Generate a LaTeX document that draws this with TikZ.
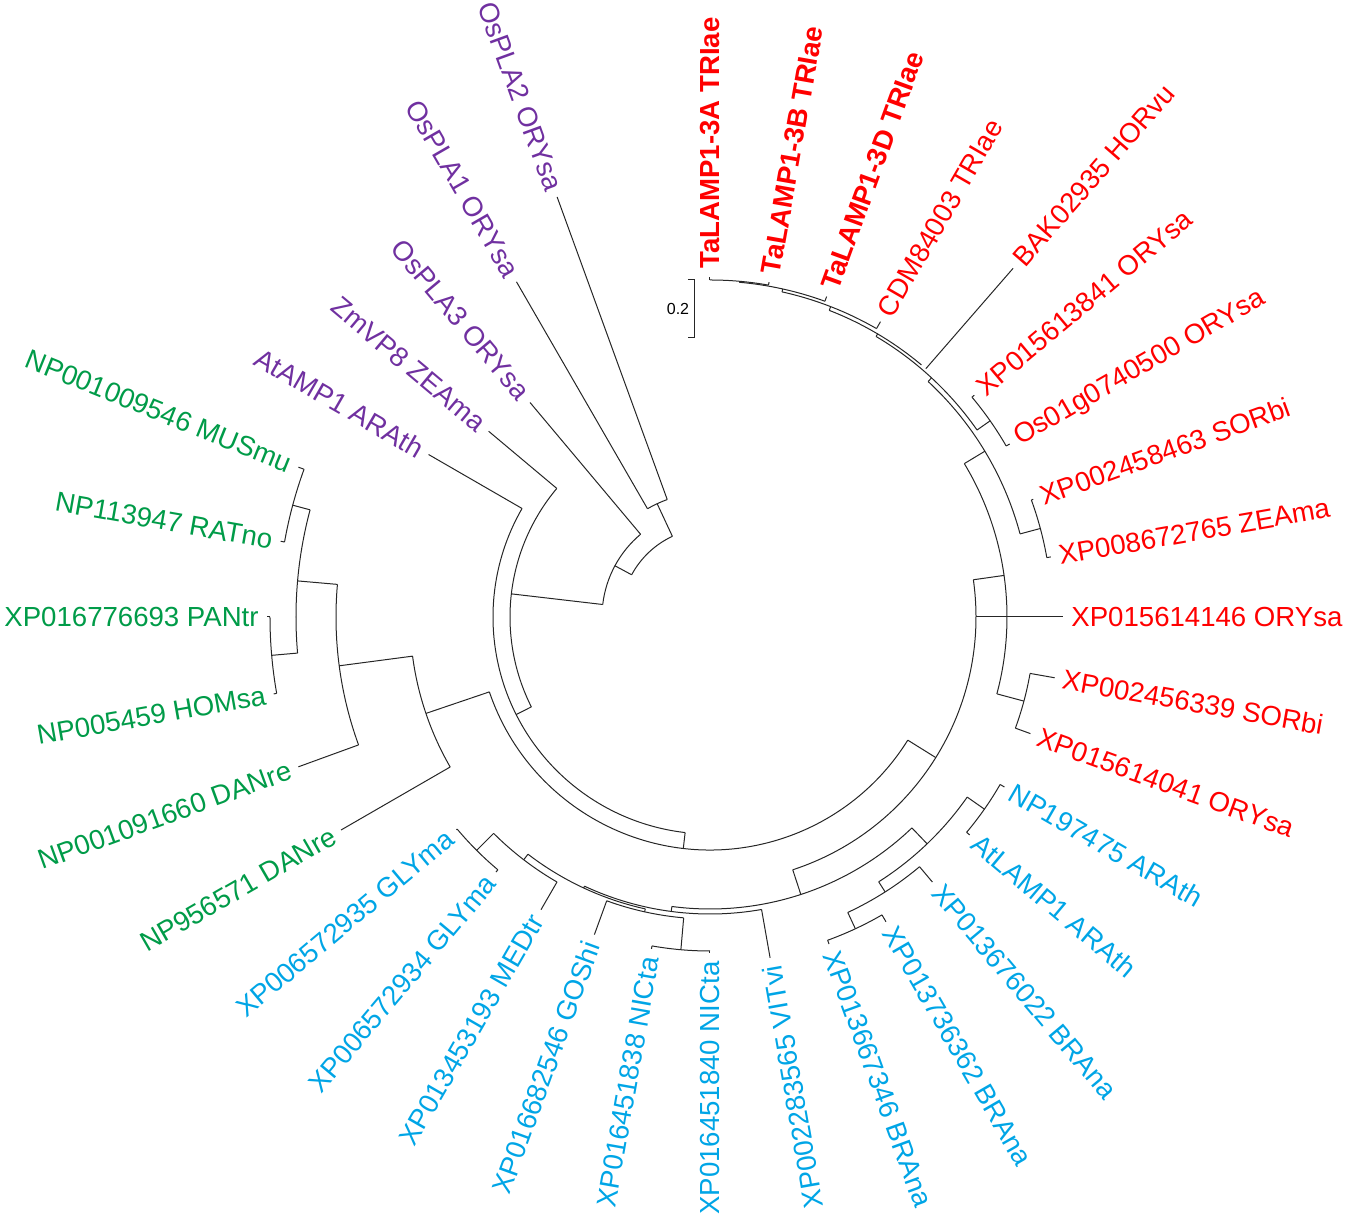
\documentclass[tikz,border=0pt]{standalone}
\usepackage{fontspec}
\setmainfont{Liberation Sans}
\definecolor{rojo}{RGB}{255,0,0}
\definecolor{azul}{RGB}{0,165,230}
\definecolor{verde}{RGB}{0,155,72}
\definecolor{morado}{RGB}{112,48,160}
% arc of an inner node: start angle, end angle, radius
\newcommand{\arco}[3]{\draw[rama] (#1:#3) arc[start angle=#1, end angle=#2, radius=#3];}
% radial branch: angle, inner radius, outer radius
\newcommand{\radio}[3]{\draw[rama] (#1:#2) -- (#1:#3);}

\begin{document}
\begin{tikzpicture}[x=0.5pt, y=0.5pt,
rama/.style={draw=black!85, line width=0.5pt},
hoja/.style={font=\fontsize{13.8}{16}\selectfont, inner sep=0pt},
der/.style={hoja, anchor=west},
izq/.style={hoja, anchor=east},
negrita/.style={font=\fontsize{13.8}{16}\selectfont\bfseries},
]
\useasboundingbox (-710,-602) rectangle (640,617);

%Arcs
\arco{115}{151.68}{89}
\arco{110}{120}{125}
\arco{130}{173.36}{108}
\arco{140}{206.71}{200}
\arco{150}{263.42}{217}
\arco{198.75}{328.09}{233}
\arco{187.5}{210}{300}
\arco{175}{200}{374}
\arco{165}{185}{414}
\arco{160}{170}{432}
\arco{180}{190}{440}
\arco{-71.875}{8.047}{266}
\arco{-15}{31.094}{297}
\arco{15}{47.1875}{321}
\arco{35}{59.375}{326}
\arco{50}{68.75}{329}
\arco{60}{77.5}{333}
\arco{70}{85}{336}
\arco{80}{90}{337}
\arco{30}{40}{342}
\arco{10}{20}{342}
\arco{-20}{-10}{325}
\arco{-97.5}{-46.25}{292}
\arco{-57.5}{-35}{314}
\arco{-40}{-30}{335}
\arco{-65}{-50}{326}
\arco{-70}{-60}{344}
\arco{-115}{-80}{297}
\arco{-127.5}{-102.5}{299}
\arco{-110}{-95}{302}
\arco{-100}{-90}{334}
\arco{-135}{-120}{306}
\arco{-140}{-130}{330}

%Inner branches
\radio{115}{89}{125}
\radio{151.68}{89}{108}
\radio{173.36}{108}{200}
\radio{206.71}{200}{217}
\radio{263.42}{217}{233}
\radio{198.75}{233}{300}
\radio{187.5}{300}{374}
\radio{175}{374}{414}
\radio{165}{414}{432}
\radio{185}{414}{440}
\radio{328.09}{233}{266}
\radio{8.047}{266}{297}
\radio{31.094}{297}{321}
\radio{-15}{297}{325}
\radio{47.1875}{321}{326}
\radio{15}{321}{342}
\radio{59.375}{326}{329}
\radio{35}{326}{342}
\radio{68.75}{329}{333}
\radio{77.5}{333}{336}
\radio{85}{336}{337}
\radio{-71.875}{266}{292}
\radio{-46.25}{292}{314}
\radio{-35}{314}{335}
\radio{-57.5}{314}{326}
\radio{-65}{326}{344}
\radio{-97.5}{292}{297}
\radio{-115}{297}{299}
\radio{-102.5}{299}{302}
\radio{-95}{302}{334}
\radio{-127.5}{299}{306}
\radio{-135}{306}{330}

%Leaf branches
\radio{90}{337}{340}
\radio{80}{337}{340}
\radio{70}{336}{341}
\radio{60}{333}{341}
\radio{49}{329}{462}
\radio{40}{342}{345}
\radio{30}{342}{346}
\radio{20}{342}{344}
\radio{10}{342}{346}
\radio{0}{266}{353}
\radio{-10}{325}{350}
\radio{-20}{325}{341}
\radio{-30}{335}{340}
\radio{-40}{335}{339}
\radio{-50}{326}{346}
\radio{-60}{344}{352}
\radio{-70}{344}{348}
\radio{-80}{297}{346}
\radio{-90}{334}{336}
\radio{-100}{334}{337}
\radio{-110}{302}{338}
\radio{-120}{306}{338}
\radio{-130}{330}{333}
\radio{-140}{330}{331}
\radio{210}{300}{426}
\radio{200}{374}{438}
\radio{190}{440}{443}
\radio{180}{440}{443}
\radio{170}{432}{436}
\radio{160}{432}{438}
\radio{150}{217}{325}
\radio{140}{200}{289}
\radio{130}{108}{280}
\radio{120}{125}{387}
\radio{110}{125}{447}

%Labels
\node[der, negrita, text=rojo, rotate=90]  (ta3a)  at (90:348)  {TaLAMP1-3A TRIae};
\node[der, negrita, text=rojo, rotate=80]  (ta3b)  at (80:348)  {TaLAMP1-3B TRIae};
\node[der, negrita, text=rojo, rotate=70]  (ta3d)  at (70:349)  {TaLAMP1-3D TRIae};
\node[der, text=rojo, rotate=60]   (cdm)   at (60:349)  {CDM84003 TRIae};
\node[der, text=rojo, rotate=49]   (bak)   at (49:470)  {BAK02935 HORvu};
\node[der, text=rojo, rotate=40]   (xp841) at (40:353)  {XP015613841 ORYsa};
\node[der, text=rojo, rotate=30]   (os01)  at (30:354)  {Os01g0740500 ORYsa};
\node[der, text=rojo, rotate=20]   (xp463) at (20:352)  {XP002458463 SORbi};
\node[der, text=rojo, rotate=10]   (xp765) at (10:354)  {XP008672765 ZEAma};
\node[der, text=rojo, rotate=0]    (xp146) at (0:361)   {XP015614146 ORYsa};
\node[der, text=rojo, rotate=-10]  (xp339) at (-10:358) {XP002456339 SORbi};
\node[der, text=rojo, rotate=-20]  (xp041) at (-20:349) {XP015614041 ORYsa};

\node[der, text=azul, rotate=-30]  (np475) at (-30:348) {NP197475 ARAth};
\node[der, text=azul, rotate=-40]  (atl1)  at (-40:347) {AtLAMP1 ARAth};
\node[der, text=azul, rotate=-50]  (xp022) at (-50:354) {XP013676022 BRAna};
\node[der, text=azul, rotate=-60]  (xp362) at (-60:360) {XP013736362 BRAna};
\node[der, text=azul, rotate=-70]  (xp346) at (-70:356) {XP013667346 BRAna};
\node[izq, text=azul, rotate=100]  (xp565) at (-80:354) {XP002283565 VITvi};
\node[izq, text=azul, rotate=90]   (xp840) at (-90:344) {XP016451840 NICta};
\node[izq, text=azul, rotate=80]   (xp838) at (-100:345) {XP016451838 NICta};
\node[izq, text=azul, rotate=70]   (xp546) at (-110:346) {XP016682546 GOShi};
\node[izq, text=azul, rotate=60]   (xp193) at (-120:346) {XP013453193 MEDtr};
\node[izq, text=azul, rotate=50]   (xp934) at (-130:341) {XP006572934 GLYma};
\node[izq, text=azul, rotate=40]   (xp935) at (-140:339) {XP006572935 GLYma};

\node[izq, text=verde, rotate=30]  (np571) at (210:434) {NP956571 DANre};
\node[izq, text=verde, rotate=20]  (np660) at (200:446) {NP001091660 DANre};
\node[izq, text=verde, rotate=10]  (np459) at (190:451) {NP005459 HOMsa};
\node[izq, text=verde, rotate=0]   (xp693) at (180:451) {XP016776693 PANtr};
\node[izq, text=verde, rotate=-10] (np947) at (170:444) {NP113947 RATno};
\node[izq, text=verde, rotate=-22] (np546) at (160:446) {NP001009546 MUSmu};

\node[izq, text=morado, rotate=-30] (atamp) at (150:333) {AtAMP1 ARAth};
\node[izq, text=morado, rotate=-40] (zmvp)  at (140:297) {ZmVP8 ZEAma};
\node[izq, text=morado, rotate=-50] (ospla3) at (130:288) {OsPLA3 ORYsa};
\node[izq, text=morado, rotate=-60] (ospla1) at (120:395) {OsPLA1 ORYsa};
\node[izq, text=morado, rotate=-70] (ospla2) at (110:454) {OsPLA2 ORYsa};

%Scale bar
\draw[rama] (-22,337) -- (-15,337) -- (-15,279) -- (-22,279);
\node[font=\fontsize{8}{10}\selectfont] (escala) at (-32,308) {0.2};

\end{tikzpicture}
\end{document}
